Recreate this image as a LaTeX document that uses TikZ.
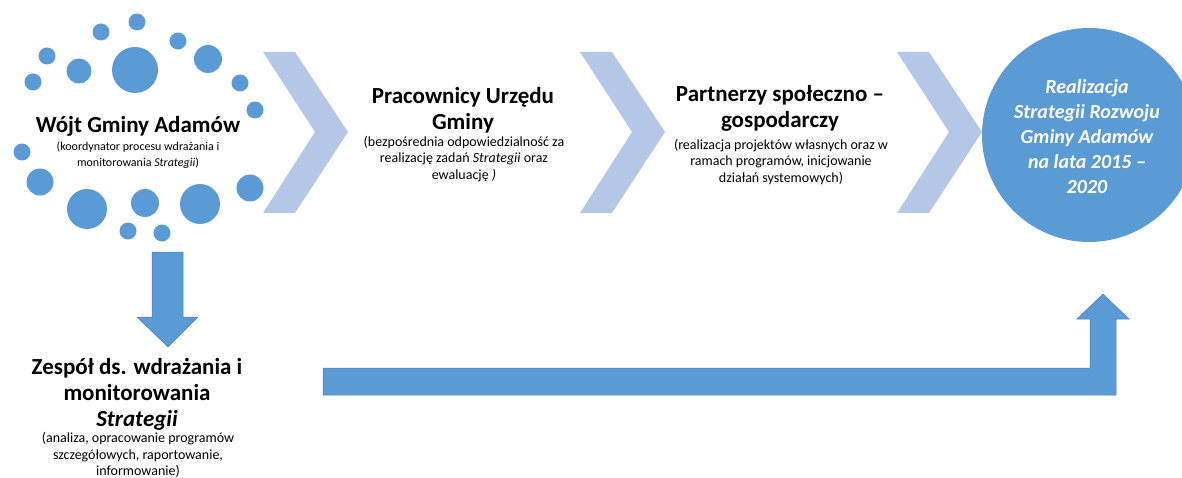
\documentclass[tikz,border=0pt]{standalone}
\usepackage{fontspec}
\setmainfont{Carlito}
\definecolor{dotblue}{HTML}{5B9BD5}
\definecolor{chev}{HTML}{B4C7E7}
\definecolor{edgeblue}{HTML}{4A7EBB}
\begin{document}
\begin{tikzpicture}[x=1pt,y=-1pt,
  dot/.style={circle,fill=dotblue,inner sep=0pt,minimum size=#1},
  chevron/.style={fill=chev},
  blockarrow/.style={fill=dotblue,draw=edgeblue,line width=0.5pt},
  title/.style={align=center,inner sep=0pt,font=\fontsize{23}{26}\selectfont\bfseries},
  sub/.style={align=center,inner sep=0pt,font=\fontsize{14}{16.5}\selectfont},
  smallsub/.style={align=center,inner sep=0pt,font=\fontsize{12}{16}\selectfont},
  goal/.style={align=center,inner sep=0pt,text=white,font=\fontsize{20}{25}\selectfont\bfseries\itshape}]
\useasboundingbox (0,0) rectangle (1182,478);
\fill[white] (0,0) rectangle (1182,478);
% dots around the mayor
\foreach \x/\y/\d [count=\i] in {137/22/17, 101/32/17, 178/41/17, 47/56/17, 135/70/46, 79/71/25, 208/59/28, 33/82/17, 240/83/17, 255/110/17, 22/152/17, 40/182/27, 250/188/27, 87/209/40, 145/203/28, 200/204/40, 128/231/17, 162/233/17}
  \node[dot=\d pt] (d\i) at (\x,\y) {};
% chevrons
\foreach \x [count=\i] in {263,580,897}
  \fill[chevron] (\x,52) -- (\x+32,52) -- (\x+85,132) -- (\x+32,213) -- (\x,213) -- (\x+52,132) -- cycle;
% goal circle
\begin{scope}
  \clip (0,0) rectangle (1182,478);
  \node[circle,fill=dotblue,inner sep=0pt,minimum size=214pt] (goalc) at (1089,135) {};
\end{scope}
\node[goal] (goaltext) at (1087,137) {Realizacja\\Strategii Rozwoju\\Gminy Adamów\\na lata 2015 –\\2020};
% texts
\node[title] (wojt) at (138,126) {Wójt Gminy Adamów};
\node[smallsub] (wojtsub) at (138,155) {(koordynator procesu wdrażania i\\monitorowania \textit{Strategii})};
\node[title] (prac) at (463,110) {Pracownicy Urzędu\\Gminy};
\node[sub] (pracsub) at (464,159) {(bezpośrednia odpowiedzialność za\\realizację zadań \textit{Strategii} oraz\\ewaluację \textit{)}};
\node[title] (part) at (780,108) {Partnerzy społeczno –\\gospodarczy};
\node[sub] (partsub) at (781,162) {(realizacja projektów własnych oraz w\\ramach programów, inicjowanie\\działań systemowych)};
\node[title] (zesp) at (137,394) {Zespół ds. wdrażania i\\monitorowania\\\textit{Strategii}};
\node[sub] (zespsub) at (138,455) {(analiza, opracowanie programów\\szczegółowych, raportowanie,\\informowanie)};
% block arrows
\draw[blockarrow] (152,252) -- (183,252) -- (183,317) -- (198,317) -- (168,347) -- (137,317) -- (152,317) -- cycle;
\draw[blockarrow] (323,368) -- (1090,368) -- (1090,319) -- (1077,319) -- (1103,294) -- (1129,319) -- (1116,319) -- (1116,395) -- (323,395) -- cycle;
\end{tikzpicture}
\end{document}
